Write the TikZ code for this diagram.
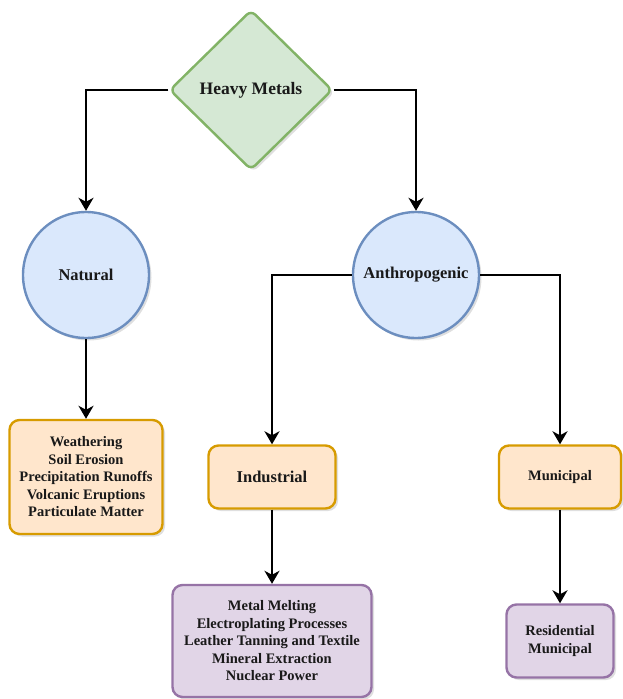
\documentclass[tikz,border=0pt]{standalone}
\usepackage{fontspec}
\setmainfont{Liberation Serif}
\usetikzlibrary{shapes.geometric,arrows.meta,shadows}

\definecolor{greenfill}{HTML}{D5E8D4}
\definecolor{greenline}{HTML}{82B366}
\definecolor{bluefill}{HTML}{DAE8FC}
\definecolor{blueline}{HTML}{6C8EBF}
\definecolor{orangefill}{HTML}{FFE6CC}
\definecolor{orangeline}{HTML}{D79B00}
\definecolor{purplefill}{HTML}{E1D5E7}
\definecolor{purpleline}{HTML}{9673A6}

\tikzset{
  every node/.style={font=\bfseries\fontsize{14.5}{17.5}\selectfont, align=center, text=black!90},
  shade box/.style={drop shadow={opacity=0.25, shadow xshift=2.5pt, shadow yshift=-2.5pt}},
  metalbox/.style={diamond, aspect=1, draw=greenline, fill=greenfill, line width=2.4pt,
    rounded corners=6pt, minimum width=163pt, minimum height=160pt, inner sep=0pt, shade box},
  sourcebox/.style={circle, draw=blueline, fill=bluefill, line width=2.4pt,
    minimum size=126pt, inner sep=0pt, shade box},
  groupbox/.style={rectangle, rounded corners=10pt, draw=orangeline, fill=orangefill,
    line width=2.4pt, inner sep=2pt, shade box},
  itembox/.style={rectangle, rounded corners=10pt, draw=purpleline, fill=purplefill,
    line width=2.4pt, inner sep=2pt, shade box},
  link/.style={-{Stealth[length=13pt,width=15pt,inset=4pt]}, line width=2.8pt}
}

\begin{document}
\begin{tikzpicture}[x=1pt,y=-1pt]
\useasboundingbox (0,0) rectangle (622,699);

%heavy metals
\node[metalbox] (hm) at (251,90) {\fontsize{17.5}{20}\selectfont Heavy Metals};
%natural and anthropogenic
\node[sourcebox] (nat) at (86,275) {\fontsize{16.5}{19}\selectfont Natural};
\node[sourcebox] (anth) at (416,275) {\fontsize{16.5}{19}\selectfont Anthropogenic};
%natural sources
\node[groupbox, minimum width=153pt, minimum height=114pt] (natlist) at (86,477)
  {Weathering\\Soil Erosion\\Precipitation Runoffs\\Volcanic Eruptions\\Particulate Matter};
%industrial
\node[groupbox, minimum width=127pt, minimum height=63pt] (ind) at (272,477)
  {\fontsize{16.5}{19}\selectfont Industrial};
\node[itembox, minimum width=199pt, minimum height=112pt] (indlist) at (272,641)
  {Metal Melting\\Electroplating Processes\\Leather Tanning and Textile\\Mineral Extraction\\Nuclear Power};
%municipal
\node[groupbox, minimum width=122pt, minimum height=63pt] (mun) at (560,477) {Municipal};
\node[itembox, minimum width=107pt, minimum height=73pt] (munlist) at (560,641)
  {Residential\\Municipal};

%connectors
\draw[link] (hm.west) -| (nat.north);
\draw[link] (hm.east) -| (anth.north);
\draw[link] (nat.south) -- (natlist.north);
\draw[link] (anth.west) -| (ind.north);
\draw[link] (anth.east) -| (mun.north);
\draw[link] (ind.south) -- (indlist.north);
\draw[link] (mun.south) -- (munlist.north);

\end{tikzpicture}
\end{document}
